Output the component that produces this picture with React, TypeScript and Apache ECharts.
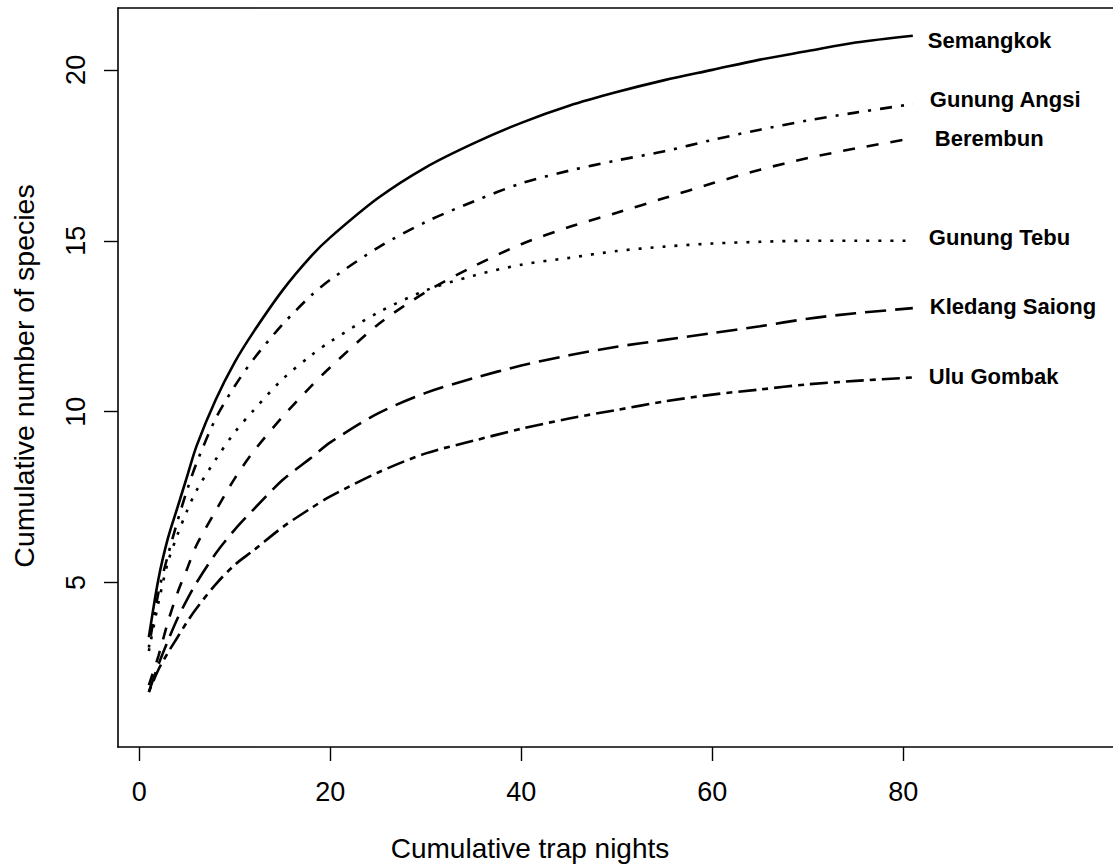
import React, { useEffect, useRef } from "react";
import * as echarts from "echarts";

const trapNights = [1, 2, 3, 4, 5, 6, 8, 10, 12, 15, 18, 20, 25, 30, 35, 40, 45, 50, 55, 60, 65, 70, 75, 81];

const semangkok = [3.4, 5.1, 6.3, 7.2, 8.1, 9.0, 10.35, 11.45, 12.35, 13.55, 14.55, 15.1, 16.25, 17.15, 17.85, 18.45, 18.95, 19.35, 19.7, 20.0, 20.3, 20.55, 20.8, 21.0];
const gunungAngsi = [3.1, 4.7, 5.8, 6.8, 7.7, 8.5, 9.8, 10.75, 11.55, 12.55, 13.4, 13.86, 14.8, 15.55, 16.15, 16.68, 17.05, 17.35, 17.62, 17.95, 18.25, 18.52, 18.75, 19.0];
const berembun = [2.0, 2.85, 3.85, 4.7, 5.4, 6.1, 7.1, 8.05, 8.85, 9.85, 10.75, 11.3, 12.55, 13.5, 14.25, 14.9, 15.4, 15.82, 16.25, 16.68, 17.08, 17.42, 17.7, 18.0];
const gunungTebu = [3.0, 4.4, 5.6, 6.4, 7.1, 7.7, 8.6, 9.4, 10.05, 10.95, 11.65, 12.05, 12.9, 13.55, 13.98, 14.3, 14.5, 14.7, 14.83, 14.92, 14.97, 15.0, 15.0, 15.0];
const kledangSaiong = [1.8, 2.6, 3.3, 3.95, 4.5, 5.0, 5.85, 6.55, 7.15, 8.0, 8.65, 9.1, 9.95, 10.55, 10.98, 11.35, 11.65, 11.9, 12.1, 12.3, 12.5, 12.72, 12.88, 13.03];
const uluGombak = [1.8, 2.45, 2.95, 3.4, 3.85, 4.25, 4.95, 5.52, 5.95, 6.62, 7.18, 7.52, 8.22, 8.78, 9.15, 9.5, 9.8, 10.05, 10.3, 10.5, 10.65, 10.8, 10.9, 11.0];

const xTickValues = [0, 20, 40, 60, 80];
const yTickValues = [5, 10, 15, 20];

const FONT = "'Liberation Sans', Arial, Helvetica, sans-serif";

export default function App() {
  const ref = useRef<HTMLDivElement>(null);

  useEffect(() => {
    if (!ref.current) return;
    const chart = echarts.init(ref.current, undefined, { renderer: "svg" });

    const mk = (
      name: string,
      vals: number[],
      dash: number[] | "solid",
      offset: number[]
    ) => ({
      type: "line",
      name,
      data: trapNights.map((x, i) => [x, vals[i]]),
      showSymbol: false,
      symbol: "none",
      smooth: 0.3,
      clip: false,
      lineStyle: { color: "#000", width: 2.6, type: dash, cap: "butt" },
      endLabel: {
        show: true,
        formatter: "{a}",
        distance: 15,
        offset,
        color: "#000",
        fontSize: 22,
        fontWeight: "bold",
        fontFamily: FONT,
      },
    });

    chart.setOption({
      animation: false,
      backgroundColor: "#fff",
      grid: { left: 118, top: 8, width: 995, height: 739, containLabel: false },
      xAxis: [
        {
          type: "value",
          min: -2.23,
          max: 101.96,
          position: "bottom",
          axisLine: { show: true, onZero: false, lineStyle: { color: "#000", width: 1.6 } },
          axisTick: {
            show: true,
            length: 14,
            customValues: xTickValues,
            lineStyle: { color: "#000", width: 1.4 },
          },
          axisLabel: {
            show: true,
            customValues: xTickValues,
            margin: 31,
            color: "#000",
            fontSize: 27,
            fontFamily: FONT,
          },
          splitLine: { show: false },
        },
        {
          type: "value",
          min: -2.23,
          max: 101.96,
          position: "top",
          axisLine: { show: true, onZero: false, lineStyle: { color: "#000", width: 1.6 } },
          axisTick: { show: false },
          axisLabel: { show: false },
          splitLine: { show: false },
        },
      ],
      yAxis: {
        type: "value",
        min: 0.19,
        max: 21.81,
        axisLine: { show: true, onZero: false, lineStyle: { color: "#000", width: 1.6 } },
        axisTick: {
          show: true,
          length: 14,
          customValues: yTickValues,
          lineStyle: { color: "#000", width: 1.4 },
        },
        axisLabel: {
          show: true,
          customValues: yTickValues,
          rotate: 90,
          margin: 29,
          color: "#000",
          fontSize: 27,
          fontFamily: FONT,
        },
        splitLine: { show: false },
      },
      graphic: [
        {
          type: "text",
          x: 530,
          y: 848,
          style: {
            text: "Cumulative trap nights",
            fill: "#000",
            fontSize: 28,
            fontFamily: FONT,
            textAlign: "center",
            textVerticalAlign: "middle",
          },
        },
        {
          type: "text",
          x: 24,
          y: 376,
          rotation: Math.PI / 2,
          style: {
            text: "Cumulative number of species",
            fill: "#000",
            fontSize: 28.5,
            fontFamily: FONT,
            textAlign: "center",
            textVerticalAlign: "middle",
          },
        },
      ],
      series: [
        mk("Semangkok", semangkok, "solid", [0, 5]),
        mk("Gunung Angsi", gunungAngsi, [3, 9, 12, 9], [2, -5]),
        mk("Berembun", berembun, [12, 12], [7, 0]),
        mk("Gunung Tebu", gunungTebu, [3, 9], [1, -3]),
        mk("Kledang Saiong", kledangSaiong, [21, 9], [2, -2]),
        mk("Ulu Gombak", uluGombak, [6, 6, 18, 6], [1, -1]),
      ],
    });

    return () => chart.dispose();
  }, []);

  return (
    <div
      ref={ref}
      style={{ position: "absolute", left: 0, top: 0, width: 1113, height: 867 }}
    />
  );
}
